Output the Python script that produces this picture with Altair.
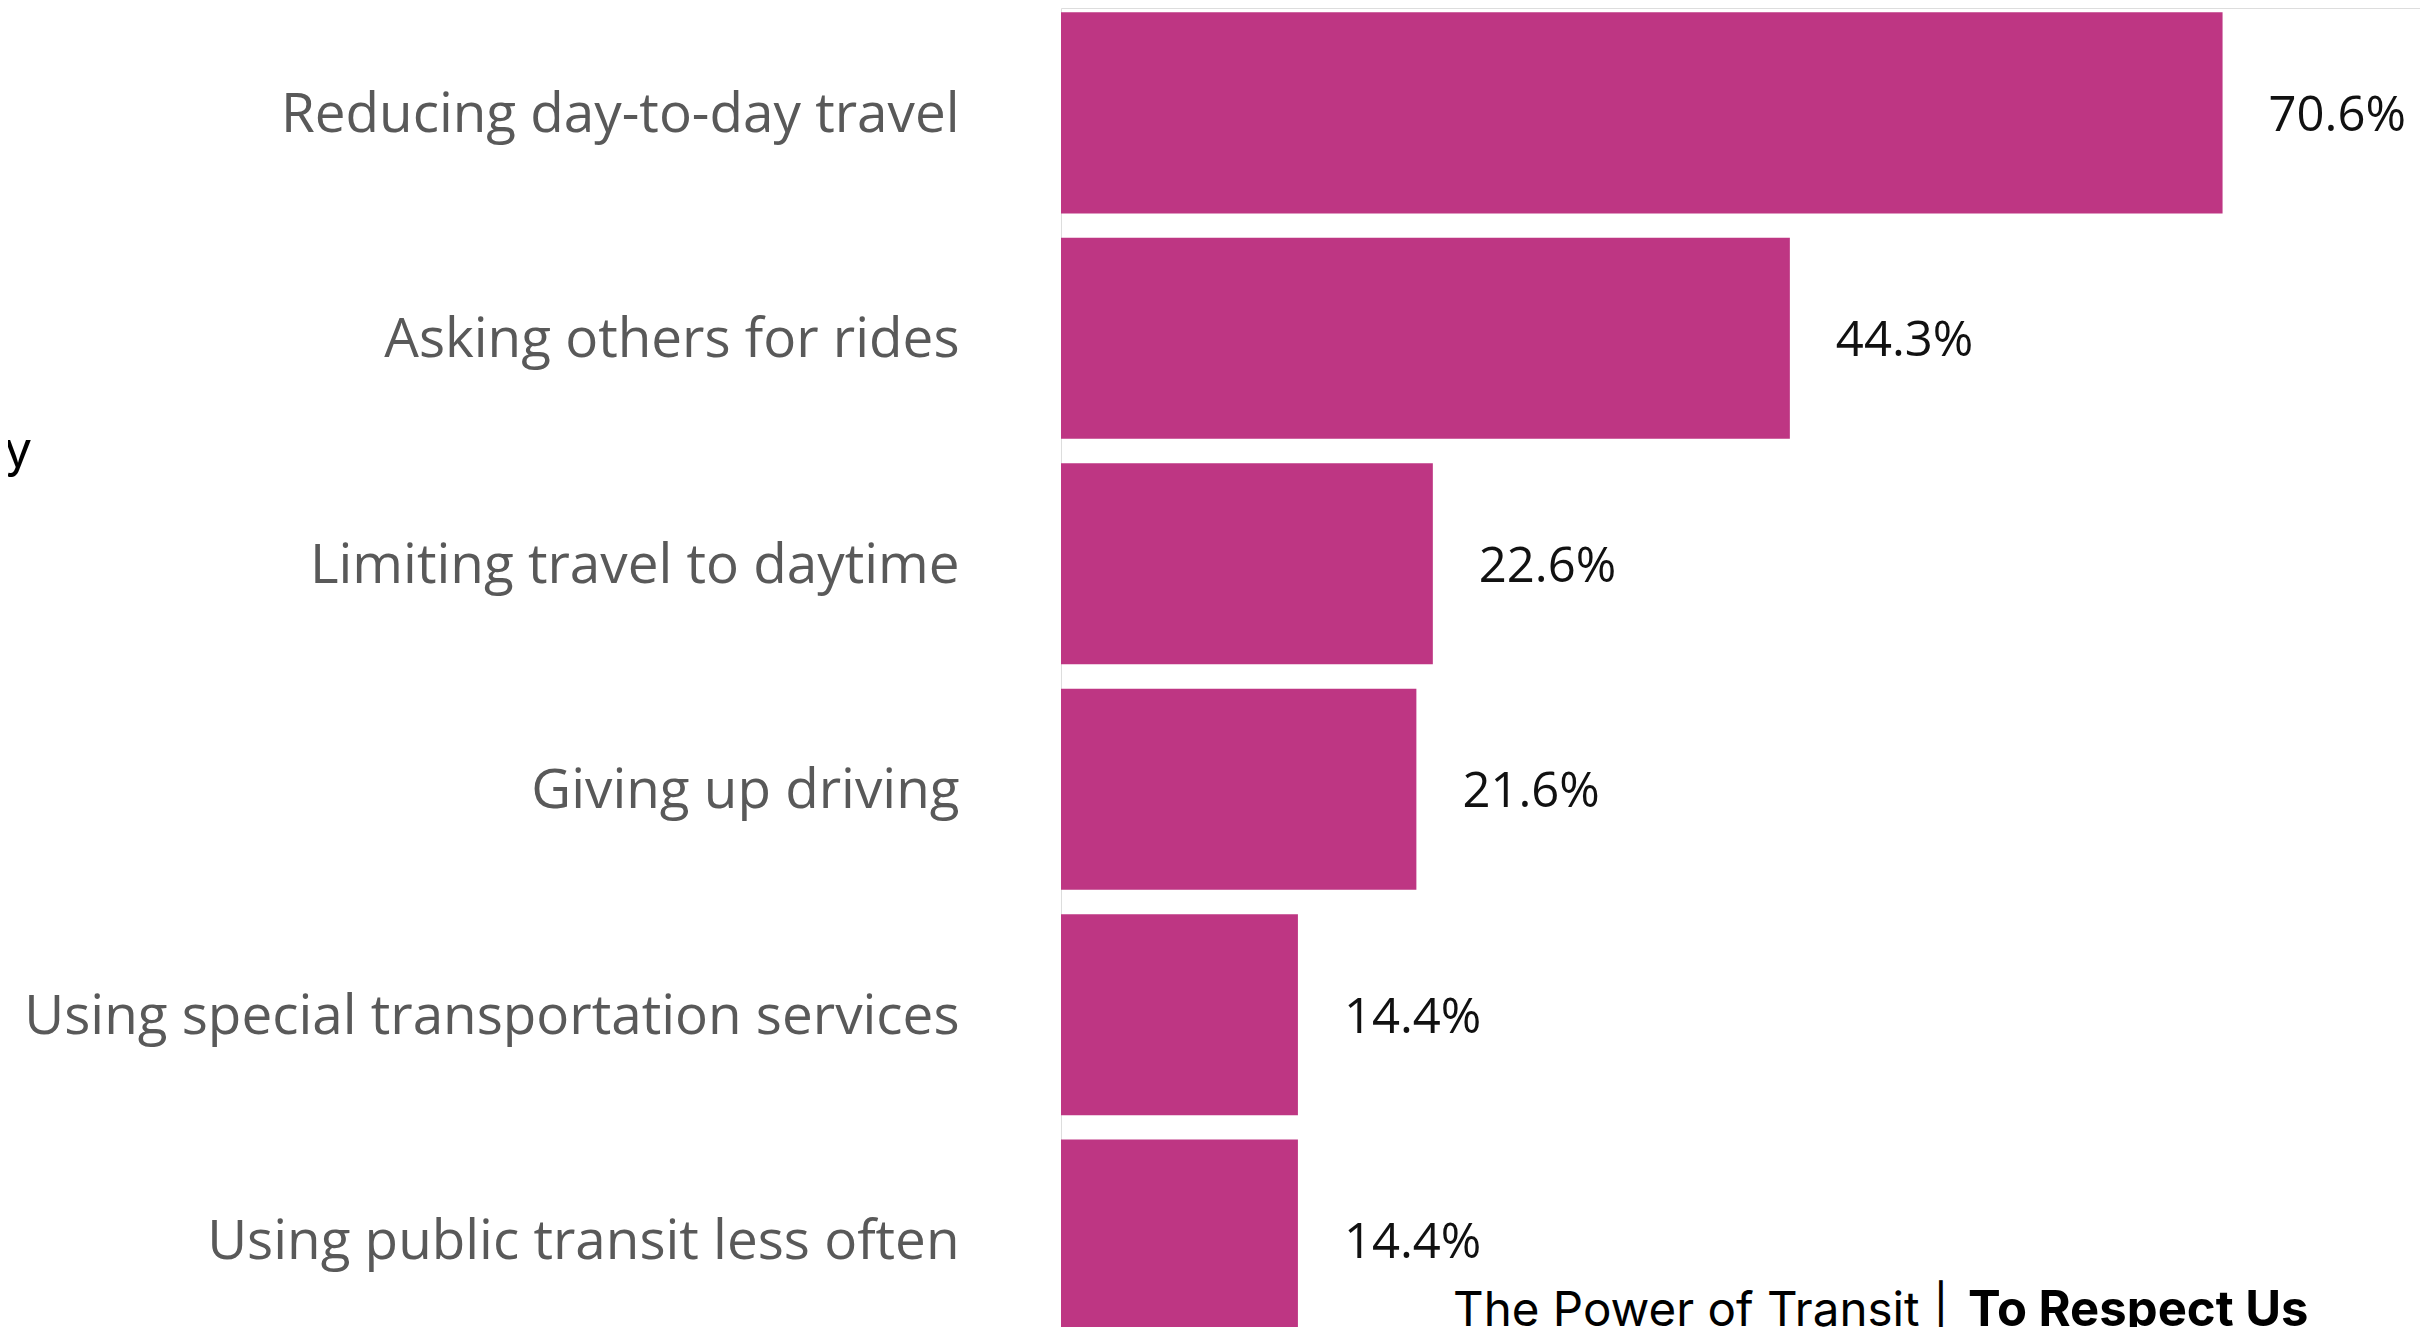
import altair as alt
import pandas as pd

categories = [
    "Reducing day-to-day travel",
    "Asking others for rides",
    "Limiting travel to daytime",
    "Giving up driving",
    "Using special transportation services",
    "Using public transit less often",
]
values = [70.6, 44.3, 22.6, 21.6, 14.4, 14.4]

footer_left = ["The Power of Transit |"]
footer_right = ["To Respect Us"]
cut_title = ["y"]

df = pd.DataFrame({"category": categories, "value": values})

BAR_COLOR = "#BE3683"

y_enc = alt.Y(
    "category:N",
    sort=None,
    title=None,
    scale=alt.Scale(paddingInner=0.108, paddingOuter=0.019, range=[0, 1337]),
    axis=alt.Axis(
        domain=False,
        ticks=False,
        grid=False,
        tickSize=0,
        labelPadding=102,
        labelOffset=3,
        labelLimit=2000,
        labelFont="Open Sans",
        labelFontSize=54.8,
        labelColor="#595959",
        labelFontWeight="normal",
    ),
)
x_enc = alt.X("value:Q", axis=None, scale=alt.Scale(domain=[0, 82.6], nice=False, zero=True))

bars = alt.Chart(df).mark_bar(color=BAR_COLOR, cornerRadius=0, strokeWidth=0).encode(x=x_enc, y=y_enc)

labels = (
    alt.Chart(df)
    .transform_calculate(label="format(datum.value, '.1f') + '%'")
    .mark_text(
        align="left",
        baseline="middle",
        dx=46,
        dy=3,
        font="Open Sans",
        fontSize=49,
        color="#111111",
    )
    .encode(x=x_enc, y=y_enc, text="label:N")
)

foot1 = (
    alt.Chart(pd.DataFrame({"t": footer_left}))
    .mark_text(align="left", baseline="alphabetic", font="Inter", fontSize=47.5, color="#000000")
    .encode(x=alt.value(392), y=alt.value(1318), text="t:N")
)
foot2 = (
    alt.Chart(pd.DataFrame({"t": footer_right}))
    .mark_text(align="left", baseline="alphabetic", font="Inter", fontSize=49, fontWeight="bold", color="#000000")
    .encode(x=alt.value(907), y=alt.value(1318), text="t:N")
)
ytxt = (
    alt.Chart(pd.DataFrame({"t": cut_title}))
    .mark_text(align="right", baseline="alphabetic", font="Inter", fontSize=50, color="#000000")
    .encode(x=alt.value(-1029), y=alt.value(459), text="t:N")
)

chart = (
    alt.layer(bars, labels, foot1, foot2, ytxt)
    .properties(
        width=1359,
        height=1319,
        autosize=alt.AutoSizeParams(type="none"),
        padding={"left": 1053, "top": 0, "right": 0, "bottom": 0},
    )
    .configure_view(strokeWidth=0, strokeOpacity=0, stroke="transparent")
    .configure_axis(grid=False)
    .configure(background="white")
)

chart.save("out.html", embed_options={"renderer": "svg", "actions": False})
